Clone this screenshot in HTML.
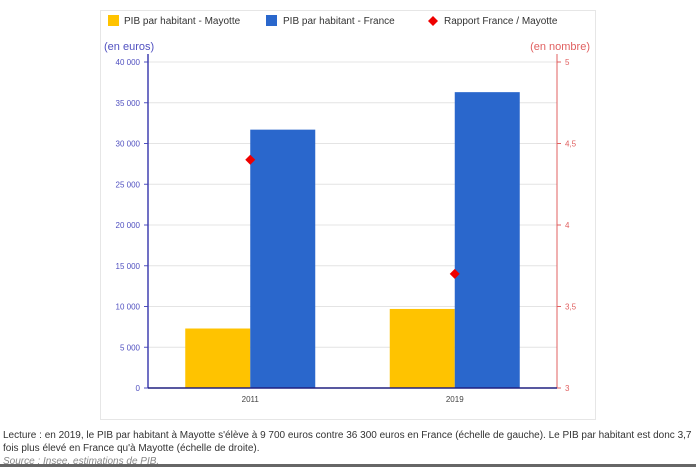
<!DOCTYPE html>
<html><head><meta charset="utf-8"><style>
body{margin:0;width:696px;height:467px;background:#fff;font-family:"Liberation Sans",sans-serif;overflow:hidden;position:relative}
.card{position:absolute;left:100px;top:10px;width:496px;height:410px;border:1px solid #e6e6e6;box-sizing:border-box}
.note{position:absolute;left:3px;top:429px;font-size:10px;color:#333;line-height:13px;width:690px}
.src{font-style:italic;color:#888;text-decoration:underline}
.bot{position:absolute;left:0;top:464px;width:696px;height:3px;background:#666}
</style></head><body>
<div class="card"></div>
<svg width="696" height="467" style="position:absolute;left:0;top:0">
<g id="legend" font-size="10" fill="#333">
<rect x="108" y="15" width="11" height="11" fill="#FFC300"/>
<text x="124" y="24">PIB par habitant - Mayotte</text>
<rect x="266" y="15" width="11" height="11" fill="#2A67CC"/>
<text x="283" y="24">PIB par habitant - France</text>
<path d="M433,16 l5,5 -5,5 -5,-5z" fill="#e00"/>
<text x="444" y="24">Rapport France / Mayotte</text>
</g>
<text x="104" y="50" font-size="11" fill="#5050c0">(en euros)</text>
<text x="590" y="50" font-size="11" fill="#e06060" text-anchor="end">(en nombre)</text>
<g id="grid"></g><g id="bars"></g><g id="axes"></g><g id="pts"></g>
</svg>
<div class="note">Lecture : en 2019, le PIB par habitant à Mayotte s'élève à 9 700 euros contre 36 300 euros en France (échelle de gauche). Le PIB par habitant est donc 3,7 fois plus élevé en France qu'à Mayotte (échelle de droite).<br><span class="src">Source : Insee, estimations de PIB.</span></div>
<div class="bot"></div>
<script>
const categories=["2011","2019"];
const mayotte=[7300,9700];
const france=[31700,36300];
const ratio=[4.4,3.7];
const leftTicks=[0,5000,10000,15000,20000,25000,30000,35000,40000];
const leftLabels=["0","5 000","10 000","15 000","20 000","25 000","30 000","35 000","40 000"];
const rightTicks=[3,3.5,4,4.5,5];
const rightLabels=["3","3,5","4","4,5","5"];
const NS="http://www.w3.org/2000/svg";
const X0=148,X1=557,Y0=388,Y1=62;
const yL=v=>Y0-(v/40000)*(Y0-Y1);
const yR=v=>Y0-((v-3)/2)*(Y0-Y1);
const cx=i=>X0+(X1-X0)*(i+0.5)/categories.length;
const bw=65;
function mk(t,a,p){const e=document.createElementNS(NS,t);for(const k in a)e.setAttribute(k,a[k]);document.getElementById(p).appendChild(e);return e;}
leftTicks.forEach((v,i)=>{
 if(v>0){const g=mk('line',{x1:X0,x2:X1,y1:yL(v),y2:yL(v),stroke:'#e4e4e4'},'grid');
 
 }
 const t=mk('text',{x:X0-8,y:yL(v)+3,'font-size':8,fill:'#5050c0','text-anchor':'end'},'axes');t.textContent=leftLabels[i];
 
 
 mk('line',{x1:X0-4,x2:X0,y1:yL(v),y2:yL(v),stroke:'#5050c0'},'axes');
});
rightTicks.forEach((v,i)=>{
 const t=mk('text',{x:X1+8,y:yR(v)+3,'font-size':8,fill:'#e06060'},'axes');t.textContent=rightLabels[i];
 
 
 mk('line',{x1:X1,x2:X1+4,y1:yR(v),y2:yR(v),stroke:'#e06060'},'axes');
});
categories.forEach((c,i)=>{
 const m=mk('rect',{x:cx(i)-bw,y:yL(mayotte[i]),width:bw,height:Y0-yL(mayotte[i]),fill:'#FFC300'},'bars');
 
 
 const f=mk('rect',{x:cx(i),y:yL(france[i]),width:bw,height:Y0-yL(france[i]),fill:'#2A67CC'},'bars');
 
 
 const t=mk('text',{x:cx(i),y:Y0+14,'font-size':8,fill:'#444','text-anchor':'middle'},'axes');t.textContent=c;
 
 
 const y=yR(ratio[i]),x=cx(i);
 const p=mk('path',{d:`M${x},${y-5} L${x+5},${y} L${x},${y+5} L${x-5},${y}Z`,fill:'#e00'},'pts');
 
 
});
const a1=mk('line',{x1:X0,x2:X0,y1:Y1-8,y2:Y0,stroke:'#4040b0','stroke-width':1.5},'axes');

const a2=mk('line',{x1:X1,x2:X1,y1:Y1-8,y2:Y0,stroke:'#e06060'},'axes');

const a3=mk('line',{x1:X0,x2:X1,y1:Y0,y2:Y0,stroke:'#202080','stroke-width':1.5},'axes');

</script>
</body></html>
